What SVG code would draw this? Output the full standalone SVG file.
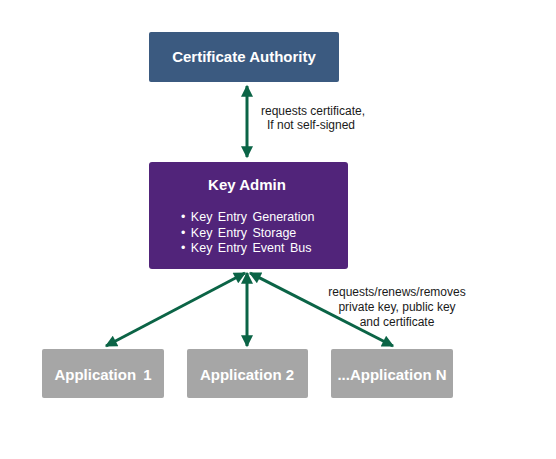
<svg xmlns="http://www.w3.org/2000/svg" width="556" height="459" viewBox="0 0 556 459">
<defs>
<marker id="ah" viewBox="0 0 10 10" refX="9" refY="5" markerWidth="4.5" markerHeight="4" orient="auto-start-reverse" markerUnits="strokeWidth">
<path d="M0,0 L10,5 L0,10 Z" fill="#0B6446"/>
</marker>
<style>
.t{font-family:"Liberation Sans",Arial,sans-serif;fill:#fff;font-weight:bold;text-anchor:middle}
.b{font-family:"Liberation Sans",Arial,sans-serif;fill:#fff;font-size:12.5px;word-spacing:2px}
.l{font-family:"Liberation Sans",Arial,sans-serif;fill:#1a1a1a;font-size:12px;text-anchor:middle}
.c{stroke:#0B6446;stroke-width:3;fill:none;marker-start:url(#ah);marker-end:url(#ah)}
.app{fill:#A6A6A6}
</style>
</defs>
<rect width="556" height="459" fill="#fff"/>
<g id="connectors">
<line class="c" x1="247" y1="86" x2="247" y2="157"/>
<line class="c" x1="245" y1="273" x2="106" y2="346"/>
<line class="c" x1="247" y1="273" x2="247" y2="346"/>
<line class="c" x1="250" y1="273" x2="393" y2="346"/>
</g>
<g id="ca">
<rect x="149" y="32" width="190" height="50" rx="2" fill="#3B5A80"/>
<text class="t" x="244" y="62" font-size="15">Certificate Authority</text>
</g>
<g id="ca-label">
<text class="l" x="313" y="115">requests certificate,</text>
<text class="l" x="311" y="129">If not self-signed</text>
</g>
<g id="keyadmin">
<rect x="149" y="162" width="199" height="107" rx="3" fill="#51247A"/>
<text class="t" x="247" y="190" font-size="15">Key Admin</text>
<text class="b" x="181" y="221">• Key Entry Generation</text>
<text class="b" x="181" y="237">• Key Entry Storage</text>
<text class="b" x="181" y="252">• Key Entry Event Bus</text>
</g>
<g id="app-label">
<text class="l" x="397" y="296">requests/renews/removes</text>
<text class="l" x="397" y="311">private key, public key</text>
<text class="l" x="397" y="326">and certificate</text>
</g>
<g id="app1">
<rect class="app" x="42" y="349" width="122" height="49" rx="2"/>
<text class="t" x="103" y="380" font-size="15" word-spacing="3">Application 1</text>
</g>
<g id="app2">
<rect class="app" x="187" y="349" width="121" height="49" rx="2"/>
<text class="t" x="247" y="380" font-size="15">Application 2</text>
</g>
<g id="appn">
<rect class="app" x="331" y="349" width="122" height="49" rx="2"/>
<text class="t" x="392" y="380" font-size="15">...Application N</text>
</g>
</svg>
